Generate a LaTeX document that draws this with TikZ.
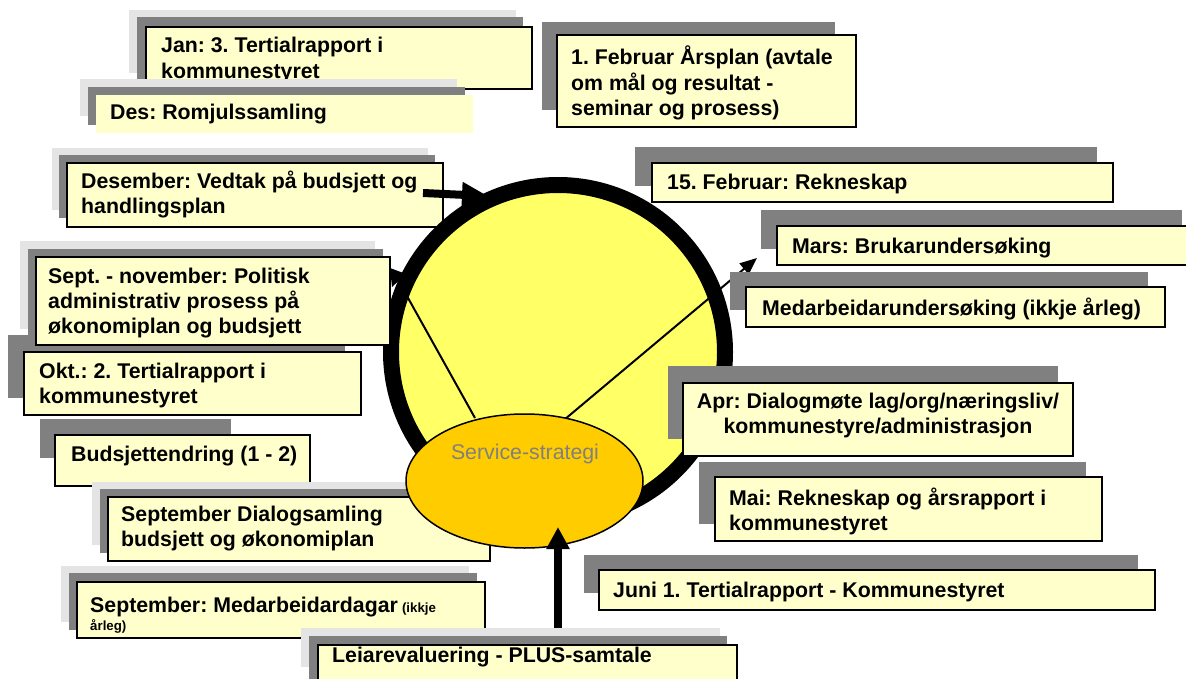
\documentclass[tikz,border=0pt]{standalone}
\usepackage{fontspec}
\setmainfont{Liberation Sans}
\usetikzlibrary{arrows.meta,shapes.geometric}
\definecolor{ly}{HTML}{FFFFCC}
\definecolor{dg}{HTML}{808080}
\definecolor{lg}{HTML}{E4E4E4}
\definecolor{cy}{HTML}{FFFF66}
\definecolor{eo}{HTML}{FFCC00}
\frenchspacing
\begin{document}
\begin{tikzpicture}[x=1pt,y=-1pt,
  lgs/.style={fill=lg,draw=none},
  dks/.style={fill=dg,draw=none},
  ybx/.style={fill=ly,draw=black,line width=2pt},
  ybxn/.style={fill=ly,draw=none},
  txt/.style={anchor=base west,inner sep=0pt,align=left,font=\bfseries\fontsize{21.3}{25.3}\selectfont},
  ctxt/.style={anchor=base,inner sep=0pt,align=center,font=\bfseries\fontsize{21.3}{25.3}\selectfont},
  small/.style={anchor=base west,inner sep=0pt,font=\bfseries\fontsize{13.3}{16}\selectfont},
  thin/.style={draw=black,line width=2pt},
  thick/.style={draw=black,line width=8pt}]
\useasboundingbox (0,0) rectangle (1186,679);
\clip (0,0) rectangle (1186,679);
\fill[white] (0,0) rectangle (1186,679);

% Jan
\path[lgs] (129,10) rectangle (516,73);
\path[dks] (137,17) rectangle (523,80);
\path[ybx] (146,27) rectangle (532,89);
\node[txt] (jan) at (161,78.3) {Jan: 3. Tertialrapport i\\kommunestyret};
% Des
\path[lgs] (80,79) rectangle (457,116);
\path[dks] (88,87) rectangle (465,125);
\path[ybxn] (96,95) rectangle (473,133);
\node[txt] (des) at (110,120) {Des: Romjulssamling};
% 1. Februar
\path[dks] (542,22) rectangle (835,110);
\path[ybx] (557,35) rectangle (856,127);
\node[txt] (feb1) at (571,115.6) {1. Februar Årsplan (avtale\\om mål og resultat -\\seminar og prosess)};
% Desember
\path[lgs] (52,148) rectangle (428,210);
\path[dks] (59,155) rectangle (435,218);
\path[ybx] (67,163) rectangle (443,227);
\node[txt] (desember) at (81,213.3) {Desember: Vedtak på budsjett og\\handlingsplan};

% circle
\path[fill=cy,draw=black,line width=16pt] (558,352) circle[radius=167];
\fill[black] (390,268) -- (406,274) -- (392,287) -- cycle;

% Okt
\path[dks] (8,335) rectangle (345,398);
\path[ybx] (24,352) rectangle (361,415);
\node[txt] (okt) at (39,403.3) {Okt.: 2. Tertialrapport i\\kommunestyret};
% Sept - november
\path[lgs] (20,241) rectangle (375,329);
\path[dks] (28,249) rectangle (383,337);
\path[ybx] (36,257) rectangle (390,345);
\node[txt] (septnov) at (48,333.6) {Sept. - november: Politisk\\administrativ prosess på\\økonomiplan og budsjett};
% Budsjettendring
\path[dks] (40,419) rectangle (231,458);
\path[ybx] (55,435) rectangle (310,486);
\node[txt] (budsj) at (71,461) {Budsjettendring (1 - 2)};
% September Dialogsamling
\path[lgs] (92,482) rectangle (474,545);
\path[dks] (100,489) rectangle (482,553);
\path[ybx] (108,497) rectangle (490,561);
\node[txt] (septdia) at (121,546.3) {September Dialogsamling\\budsjett og økonomiplan};

% connectors from the strategy ellipse
\coordinate (lA) at (475,418);
\coordinate (lB) at (398,280);
\coordinate (rA) at (558,425);
\coordinate (rB) at (757,258);
\draw[thin] (lA) -- (lB);
\draw[thin,-{Triangle[length=17pt,width=14pt]}] (rA) -- (rB);

% ellipse
\node[draw=black,line width=1.5pt,fill=eo,ellipse,minimum width=237pt,minimum height=134pt,inner sep=0pt] (strat) at (524.5,481) {};
\node[anchor=base,inner sep=0pt,text=dg,font=\fontsize{21.3}{25}\selectfont] (strattxt) at (525,459) {Service-strategi};

% Desember arrow
\coordinate (dA) at (423,193);
\coordinate (dB) at (488,196);
\draw[thick,-{Triangle[length=26pt,width=24pt]}] (dA) -- (dB);

% Medarbeidardagar
\path[lgs] (61,566) rectangle (469,622);
\path[dks] (69,573) rectangle (477,630);
\path[ybx] (77,582) rectangle (485,638);
\node[txt] (medd) at (90,612) {September: Medarbeidardagar};
\node[small] (medd2) at (medd.base east) {\ (ikkje};
\node[small] (medd3) at (90,630) {årleg)};

% bottom arrow
\coordinate (bA) at (558,634);
\coordinate (bB) at (558,527);
\draw[thick,-{Triangle[length=22pt,width=22pt]}] (bA) -- (bB);

% Leiarevaluering
\path[lgs] (301,628) rectangle (720,667);
\path[dks] (309,636) rectangle (727,690);
\path[ybx] (318,645) rectangle (737,700);
\node[txt] (leiar) at (332,662) {Leiarevaluering - PLUS-samtale};

% right side
\path[dks] (635,147) rectangle (1097,186);
\path[ybx] (652,163) rectangle (1113,202);
\node[txt] (feb15) at (667,190) {15. Februar: Rekneskap};

\path[dks] (761,210) rectangle (1182,249);
\path[ybx] (777,226) rectangle (1198,265);
\node[txt] (mars) at (792,253) {Mars: Brukarundersøking};

\path[dks] (730,272) rectangle (1148,310);
\path[ybx] (746,287) rectangle (1165,327);
\node[txt] (medu) at (762,315) {Medarbeidarundersøking (ikkje årleg)};

\path[dks] (668,366) rectangle (1058,439);
\path[ybx] (683,383) rectangle (1073,456);
\node[ctxt] (apr) at (878,433.3) {Apr: Dialogmøte lag/org/næringsliv/\\kommunestyre/administrasjon};

\path[dks] (699,462) rectangle (1086,524);
\path[ybx] (715,477) rectangle (1102,541);
\node[txt] (mai) at (729,530.3) {Mai: Rekneskap og årsrapport i\\kommunestyret};

\path[dks] (584,555) rectangle (1138,593);
\path[ybx] (599,570) rectangle (1155,610);
\node[txt] (juni) at (613,597) {Juni 1. Tertialrapport - Kommunestyret};
\end{tikzpicture}
\end{document}
